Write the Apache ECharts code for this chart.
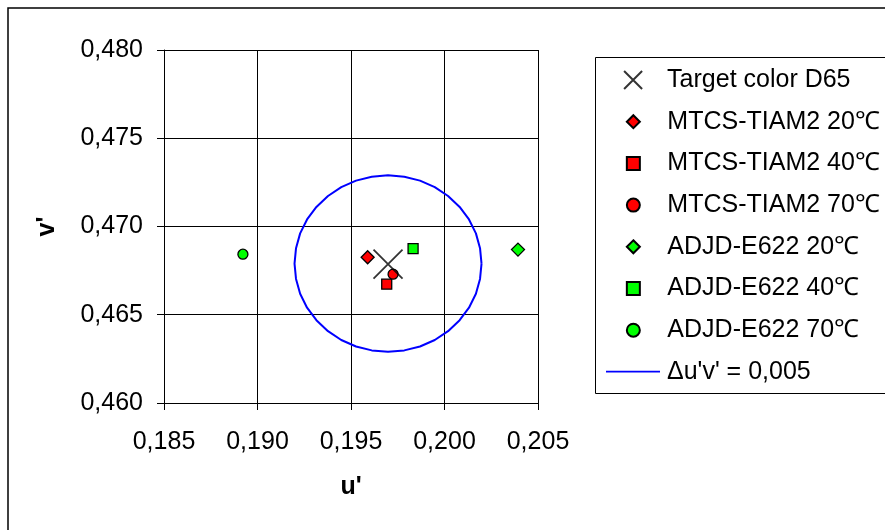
<!DOCTYPE html>
<html>
<head>
<meta charset="utf-8">
<script src="https://cdn.jsdelivr.net/npm/echarts@6/dist/echarts.min.js"></script>
<style>
html,body{margin:0;padding:0;background:#fff;}
#chart{width:885px;height:530px;}
</style>
</head>
<body>
<div id="chart"></div>
<script>
// ---- data ----
const seriesNames = [
  'Target color D65',
  'MTCS-TIAM2 20\u2103',
  'MTCS-TIAM2 40\u2103',
  'MTCS-TIAM2 70\u2103',
  'ADJD-E622 20\u2103',
  'ADJD-E622 40\u2103',
  'ADJD-E622 70\u2103',
  '\u0394u\'v\' = 0,005'
];
const targetD65 = [[0.19698, 0.46787]];
const mtcs20 = [[0.19589, 0.46826]];
const mtcs40 = [[0.19691, 0.46673]];
const mtcs70 = [[0.19725, 0.46730]];
const adjd20 = [[0.20393, 0.46869]];
const adjd40 = [[0.19832, 0.46875]];
const adjd70 = [[0.18922, 0.46843]];
// tolerance circle outline (u', v') points
const circleU = [0.20198,0.20190,0.20168,0.20131,0.20081,0.20019,0.19948,0.19869,0.19785,0.19698,
                 0.19611,0.19527,0.19448,0.19377,0.19315,0.19265,0.19228,0.19206,0.19198,
                 0.19206,0.19228,0.19265,0.19315,0.19377,0.19448,0.19527,0.19611,0.19698,
                 0.19785,0.19869,0.19948,0.20019,0.20081,0.20131,0.20168,0.20190,0.20198];
const circleV = [0.46790,0.46877,0.46961,0.47040,0.47111,0.47173,0.47223,0.47260,0.47282,0.47290,
                 0.47282,0.47260,0.47223,0.47173,0.47111,0.47040,0.46961,0.46877,0.46790,
                 0.46703,0.46619,0.46540,0.46469,0.46407,0.46357,0.46320,0.46298,0.46290,
                 0.46298,0.46320,0.46357,0.46407,0.46469,0.46540,0.46619,0.46703,0.46790];
const xTicks = {min: 0.185, max: 0.205, interval: 0.005};
const yTicks = {min: 0.460, max: 0.480, interval: 0.005};
const xName = "u'";
const yName = "v'";

// ---- chart ----
const FONT = 'Liberation Sans, Arial, sans-serif';
const fmt = v => v.toFixed(3).replace('.', ',');
const circleData = circleU.map((u, i) => [u, circleV[i]]);
const crossPath = 'path://M0,0L10,10M10,0L0,10';
const iconPath = {
  diamond: 'path://M5,0L10,5L5,10L0,5Z',
  rect: 'path://M0,0L10,0L10,10L0,10Z',
  circle: 'path://M5,0A5,5,0,1,1,5,10A5,5,0,1,1,5,0Z'
};
const markerSymbols = ['diamond', 'rect', 'circle', 'diamond', 'rect', 'circle'];
const markerSizes = [13, 10, 10, 13, 10, 10];

function scatter(name, data, symbol, size, color) {
  return {
    name, type: 'scatter', data, symbol, symbolSize: size,
    itemStyle: {color, borderColor: '#000', borderWidth: 1.3, opacity: 1},
    emphasis: {disabled: true}, z: 5
  };
}
const legendText = {fontFamily: FONT, fontSize: 25, color: '#000', lineHeight: 25};
const symbolCenterX = 633;
const legendItemW = 58;

const chart = echarts.init(document.getElementById('chart'), null, {renderer: 'canvas'});
chart.setOption({
  animation: false,
  backgroundColor: '#fff',
  textStyle: {fontFamily: FONT},
  grid: {left: 164, right: 347, top: 50, bottom: 127, containLabel: false},
  xAxis: {
    type: 'value', min: xTicks.min, max: xTicks.max, interval: xTicks.interval,
    name: xName, nameLocation: 'middle', nameGap: 72,
    nameTextStyle: {fontFamily: FONT, fontSize: 25, fontWeight: 'bold', color: '#000'},
    axisLine: {show: true, lineStyle: {color: '#000', width: 1}},
    axisTick: {show: true, length: 7, lineStyle: {color: '#000'}},
    axisLabel: {formatter: fmt, fontFamily: FONT, fontSize: 25, color: '#000', margin: 27},
    splitLine: {show: true, lineStyle: {color: '#000', width: 1}}
  },
  yAxis: {
    type: 'value', min: yTicks.min, max: yTicks.max, interval: yTicks.interval,
    name: yName, nameLocation: 'middle', nameGap: 104, nameRotate: 90,
    nameTextStyle: {fontFamily: FONT, fontSize: 25, fontWeight: 'bold', color: '#000'},
    axisLine: {show: true, lineStyle: {color: '#000', width: 1}},
    axisTick: {show: true, length: 7, lineStyle: {color: '#000'}},
    axisLabel: {formatter: fmt, fontFamily: FONT, fontSize: 25, color: '#000', margin: 21},
    splitLine: {show: true, lineStyle: {color: '#000', width: 1}}
  },
  legend: [
    {
      data: [{name: seriesNames[0], icon: crossPath}],
      orient: 'vertical', left: symbolCenterX - 9.9, top: 67.5, padding: 0,
      itemWidth: legendItemW, itemHeight: 18, itemGap: 16.7, selectedMode: false,
      symbolKeepAspect: true,
      textStyle: legendText
    },
    {
      data: seriesNames.slice(1, 7).map((n, i) => ({name: n, icon: iconPath[markerSymbols[i]]})),
      orient: 'vertical', left: symbolCenterX - 7.15, top: 109.2, padding: 0,
      itemWidth: legendItemW, itemHeight: 13, itemGap: 16.7, selectedMode: false,
      symbolKeepAspect: true,
      textStyle: legendText
    },
    {
      data: [{name: seriesNames[7], icon: 'rect', itemStyle: {color: '#0000ff', borderWidth: 0}}],
      orient: 'vertical', left: symbolCenterX - 27, top: 359.2, padding: 0,
      itemWidth: 54, itemHeight: 1.8, selectedMode: false,
      textStyle: Object.assign({}, legendText, {padding: [0, 0, 0, 2]})
    }
  ],
  graphic: [
    {type: 'rect', silent: true, z: 100,
     shape: {x: 8, y: 8, width: 1000, height: 1000},
     style: {fill: 'none', stroke: '#000', lineWidth: 1.5}},
    {type: 'rect', silent: true, z: 100,
     shape: {x: 595.5, y: 57.5, width: 400, height: 336},
     style: {fill: 'none', stroke: '#000', lineWidth: 1}}
  ],
  series: [
    {
      name: seriesNames[0], type: 'scatter', data: targetD65,
      symbol: crossPath, symbolSize: 29, symbolKeepAspect: true,
      itemStyle: {color: 'rgba(0,0,0,0)', borderColor: '#000', borderWidth: 1.8},
      emphasis: {disabled: true}, z: 6
    },
    scatter(seriesNames[1], mtcs20, markerSymbols[0], markerSizes[0], '#ff0000'),
    scatter(seriesNames[2], mtcs40, markerSymbols[1], markerSizes[1], '#ff0000'),
    scatter(seriesNames[3], mtcs70, markerSymbols[2], markerSizes[2], '#ff0000'),
    scatter(seriesNames[4], adjd20, markerSymbols[3], markerSizes[3], '#00ff00'),
    scatter(seriesNames[5], adjd40, markerSymbols[4], markerSizes[4], '#00ff00'),
    scatter(seriesNames[6], adjd70, markerSymbols[5], markerSizes[5], '#00ff00'),
    {
      name: seriesNames[7], type: 'line', data: circleData,
      symbol: 'none', smooth: false,
      lineStyle: {color: '#0000ff', width: 2},
      itemStyle: {color: '#0000ff'},
      emphasis: {disabled: true}, z: 4
    }
  ]
});
</script>
</body>
</html>
